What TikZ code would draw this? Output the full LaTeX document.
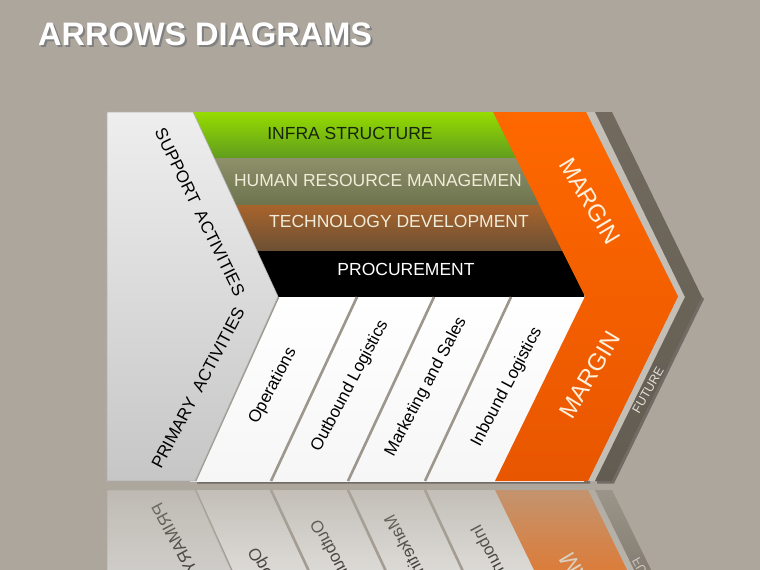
\documentclass[tikz,border=0pt]{standalone}
\usepackage{fontspec}
\setmainfont{Liberation Sans}
\usetikzlibrary{fadings}
\definecolor{bg}{RGB}{172,166,156}
\definecolor{gapcol}{RGB}{196,191,182}
\definecolor{greenA}{RGB}{150,220,0}
\definecolor{greenB}{RGB}{96,156,30}
\definecolor{oliveA}{RGB}{142,144,106}
\definecolor{oliveB}{RGB}{108,116,78}
\definecolor{brownA}{RGB}{168,100,44}
\definecolor{brownB}{RGB}{108,80,52}
\definecolor{orangeA}{RGB}{255,104,0}
\definecolor{orangeB}{RGB}{232,86,0}
\definecolor{futA}{RGB}{114,106,94}
\definecolor{futB}{RGB}{98,92,82}
\definecolor{panelA}{RGB}{238,238,238}
\definecolor{panelB}{RGB}{198,198,198}
\definecolor{divcol}{RGB}{156,150,140}
\definecolor{infratext}{RGB}{22,36,10}
\definecolor{creamtext}{RGB}{240,236,218}
\definecolor{margintext}{RGB}{255,240,220}
\definecolor{futtext}{RGB}{228,224,216}
\tikzset{
  bandtext/.style={inner sep=0pt, font=\fontsize{17.5}{17.5}\selectfont},
  coltext/.style={inner sep=0pt, rotate=62, text=black, font=\fontsize{17}{17}\selectfont},
  sidetext/.style={inner sep=0pt, text=black, font=\fontsize{17}{17}\selectfont},
  margintxt/.style={inner sep=0pt, text=margintext, font=\fontsize{24}{24}\selectfont},
  divider/.style={draw=divcol, line width=2.6pt},
  titlefont/.style={inner sep=0pt, anchor=base west, font=\fontsize{32.5}{32.5}\selectfont\bfseries}
}
\newcommand\drawchart[1]{%
  % light gap between margin and future chevrons
  \fill[gapcol] (586,112) -- (595,112) -- (685,297) -- (595,481) -- (588,481) -- (678,296.5) -- cycle;
  % support bands
  \shade[top color=greenA, bottom color=greenB] (190,112) rectangle (584,158.5);
  \shade[top color=oliveA, bottom color=oliveB] (190,158.5) rectangle (584,205);
  \shade[top color=brownA, bottom color=brownB] (190,205) rectangle (584,250.5);
  \fill[black] (190,250.5) rectangle (584,297);
  \node[bandtext, text=infratext] (infra#1) at (350,133.5) {INFRA STRUCTURE};
  \node[bandtext, text=creamtext] (hr#1) at (378,180.5) {HUMAN RESOURCE MANAGEMEN};
  \node[bandtext, text=creamtext] (tech#1) at (399,221) {TECHNOLOGY DEVELOPMENT};
  \node[bandtext, text=white] (proc#1) at (406,269.5) {PROCUREMENT};
  % primary columns
  \shade[top color=white, bottom color=white!93!gray] (190,297) rectangle (584,481);
  \draw[divider] (278,297) -- (195,481);
  \draw[divider] (357,297) -- (271,481);
  \draw[divider] (434,297) -- (348,481);
  \draw[divider] (511,297) -- (425,481);
  \node[coltext] (ops#1) at (273,386) {Operations};
  \node[coltext] (out#1) at (350,386) {Outbound Logistics};
  \node[coltext] (mkt#1) at (426,387) {Marketing and Sales};
  \node[coltext] (inb#1) at (507,387) {Inbound Logistics};
  % left panel
  \shade[top color=panelA, bottom color=panelB, draw=black!30, line width=0.6pt]
    (107,112) -- (193,112) -- (278,296.5) -- (195,481) -- (107,481) -- cycle;
  \node[sidetext, rotate=-64] (sup#1) at (200,212) {SUPPORT\ \ ACTIVITIES};
  \node[sidetext, rotate=62] (pri#1) at (198,388) {PRIMARY\ \ ACTIVITIES};
  % margin chevron
  \shade[top color=orangeA, bottom color=orangeB]
    (493,112) -- (586,112) -- (678,296.5) -- (588,481) -- (495,481) -- (585,296.5) -- cycle;
  \node[margintxt, rotate=-59] (mtop#1) at (590,201) {MARGIN};
  \node[margintxt, rotate=59] (mbot#1) at (590,375) {MARGIN};
  % future chevron
  \shade[top color=futA, bottom color=futB]
    (595,112) -- (612,112) -- (702,297) -- (612,481) -- (595,481) -- (685,297) -- cycle;
  \node[inner sep=0pt, rotate=60, text=futtext, font=\fontsize{12.5}{12.5}\selectfont] (fut#1) at (648,390) {FUTURE};
}
\begin{document}
\begin{tikzpicture}[x=1pt,y=-1pt]
  \useasboundingbox (0,0) rectangle (760,570);
  \fill[bg] (0,0) rectangle (760,570);
  % title
  \node[titlefont, text=black!50] (titleshadow) at (40,47) {ARROWS DIAGRAMS};
  \node[titlefont, text=white] (title) at (38,45) {ARROWS DIAGRAMS};
  % subtle shadow under the chart
  \fill[black!35!bg] (109,114) -- (195,114) -- (280,298.5) -- (197,483.5) -- (590,483.5) -- (590,481) -- (109,481) -- cycle;
  \fill[black!35!bg] (597,483.5) -- (614,483.5) -- (704,299) -- (702,297) -- (612,481) -- (597,481) -- cycle;
  \drawchart{}
  % reflection
  \begin{scope}
    \clip (0,489) rectangle (760,570);
    \begin{scope}[yshift=-971pt, yscale=-1, transform shape]
      \drawchart{r}
    \end{scope}
  \end{scope}
  \fill[bg, opacity=0.38] (0,489) rectangle (760,570);
  \fill[bg, opacity=0.55, path fading=south] (0,489) rectangle (760,570);
\end{tikzpicture}
\end{document}
